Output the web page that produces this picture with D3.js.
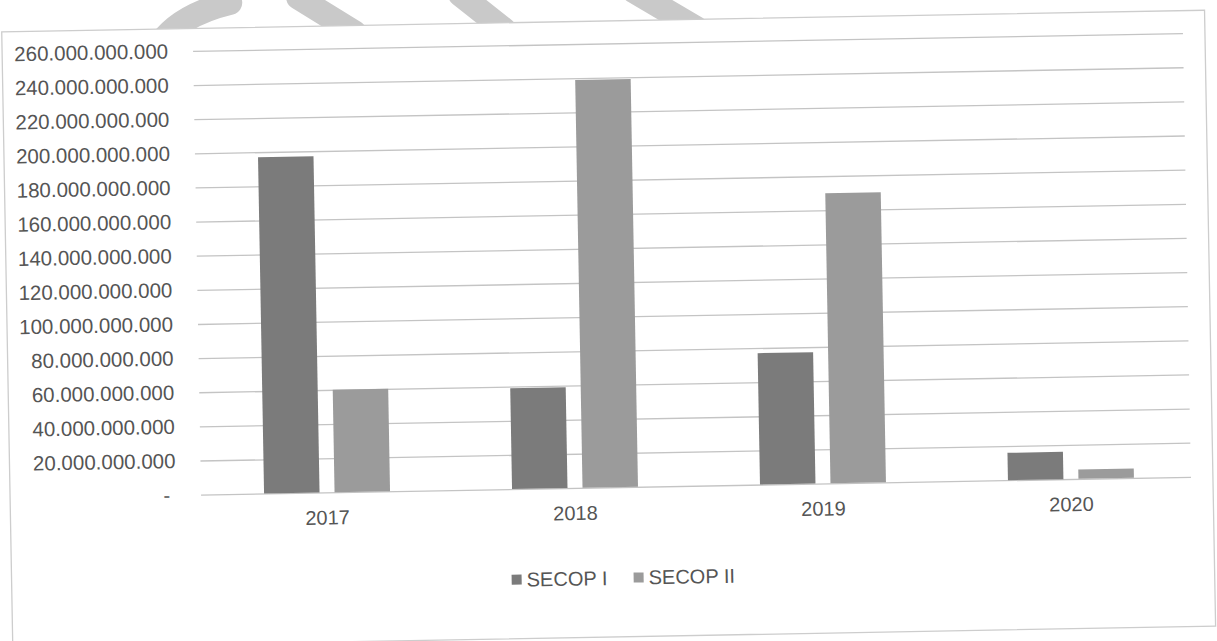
<!DOCTYPE html>
<style>
body { margin: 0; background: #fff; }
svg { display: block; }
text { font-family: "Liberation Sans", Arial, sans-serif; }
.axis .domain { display: none; }
</style>
<svg width="1217" height="641"></svg>
<script src="https://d3js.org/d3.v7.min.js"></script>
<script>

// values
var years = ["2017", "2018", "2019", "2020"];
var keys = ["SECOP I", "SECOP II"];
var secop1 = [197e9, 59e9, 77e9, 16e9];
var secop2 = [60e9, 239e9, 170e9, 5.5e9];
var tickValues = [0, 20e9, 40e9, 60e9, 80e9, 100e9, 120e9, 140e9, 160e9, 180e9, 200e9, 220e9, 240e9, 260e9];

var data = years.map(function(y, i) {
  return {year: y, "SECOP I": secop1[i], "SECOP II": secop2[i]};
});

var svg = d3.select("svg");

// the scan is tilted a little, so everything sits in a rotated group
var g = svg.append("g").attr("transform", "rotate(-1.03,608,320)");

// faint marks from the scanned page above the chart
var marks = ["M162,40 Q182,8 236,-4", "M304,-8 L360,28", "M466,-8 L510,28", "M640,-8 L702,30"];
g.append("g").selectAll("path")
  .data(marks)
  .enter().append("path")
    .attr("d", function(d) { return d; })
    .attr("fill", "none")
    .attr("stroke", "#c9c9c9")
    .attr("stroke-width", 24)
    .attr("stroke-linecap", "round");

g.append("rect")
    .attr("x", 7).attr("y", 21)
    .attr("width", 1203).attr("height", 616)
    .attr("fill", "#fff")
    .attr("stroke", "#cdcdcd")
    .attr("stroke-width", 1.3);

var plotLeft = 200, plotRight = 1192, plotTop = 43.5, plotBottom = 487.3;

var x0 = d3.scaleBand()
    .domain(years)
    .range([plotLeft, plotRight])
    .paddingInner(0.492)
    .paddingOuter(0.246);

var x1 = d3.scaleBand()
    .domain(keys)
    .range([0, x0.bandwidth()])
    .paddingInner(0.213);

var y = d3.scaleLinear()
    .domain([0, 260e9])
    .range([plotBottom, plotTop]);

var color = d3.scaleOrdinal()
    .domain(keys)
    .range(["#7b7b7b", "#9b9b9b"]);

var locale = d3.formatLocale({decimal: ",", thousands: ".", grouping: [3], currency: ["$", ""]});
var fmt = locale.format(",");

// grid + y labels
var yAxis = g.append("g")
    .attr("class", "axis")
    .attr("transform", "translate(" + (plotLeft - 2) + ",0)")
    .call(d3.axisLeft(y)
      .tickValues(tickValues)
      .tickSize(-(plotRight - plotLeft - 2))
      .tickPadding(25)
      .tickFormat(function(d) { return d === 0 ? "-" : fmt(d); }));

yAxis.selectAll(".tick line")
    .attr("stroke", "#c4c4c4")
    .attr("stroke-width", 1.3);

yAxis.selectAll(".tick text")
    .attr("fill", "#555")
    .attr("font-size", 20.5)
    .attr("font-family", "'Liberation Sans', Arial, sans-serif");

yAxis.selectAll(".tick text")
    .filter(function(d) { return d === 0; })
    .attr("x", -31);

// bars
g.append("g")
  .selectAll("g")
  .data(data)
  .enter().append("g")
    .attr("transform", function(d) { return "translate(" + x0(d.year) + ",0)"; })
  .selectAll("rect")
  .data(function(d) { return keys.map(function(k) { return {key: k, value: d[k]}; }); })
  .enter().append("rect")
    .attr("x", function(d) { return x1(d.key); })
    .attr("y", function(d) { return y(d.value); })
    .attr("width", x1.bandwidth())
    .attr("height", function(d) { return y(0) - y(d.value); })
    .attr("fill", function(d) { return color(d.key); });

// category labels
var xAxis = g.append("g")
    .attr("class", "axis")
    .attr("transform", "translate(0," + plotBottom + ")")
    .call(d3.axisBottom(x0).tickSize(0).tickPadding(18));

xAxis.selectAll(".tick text")
    .attr("fill", "#555")
    .attr("font-size", 20)
    .attr("font-family", "'Liberation Sans', Arial, sans-serif");

// legend
var legendPos = [507, 629];
var legend = g.append("g")
  .selectAll("g")
  .data(keys)
  .enter().append("g")
    .attr("transform", function(d, i) { return "translate(" + legendPos[i] + ",578)"; });

legend.append("rect")
    .attr("x", 0)
    .attr("y", -5)
    .attr("width", 10)
    .attr("height", 10)
    .attr("fill", color);

legend.append("text")
    .attr("x", 15)
    .attr("y", 7)
    .attr("fill", "#555")
    .attr("font-size", 20)
    .text(function(d) { return d; });

</script>
